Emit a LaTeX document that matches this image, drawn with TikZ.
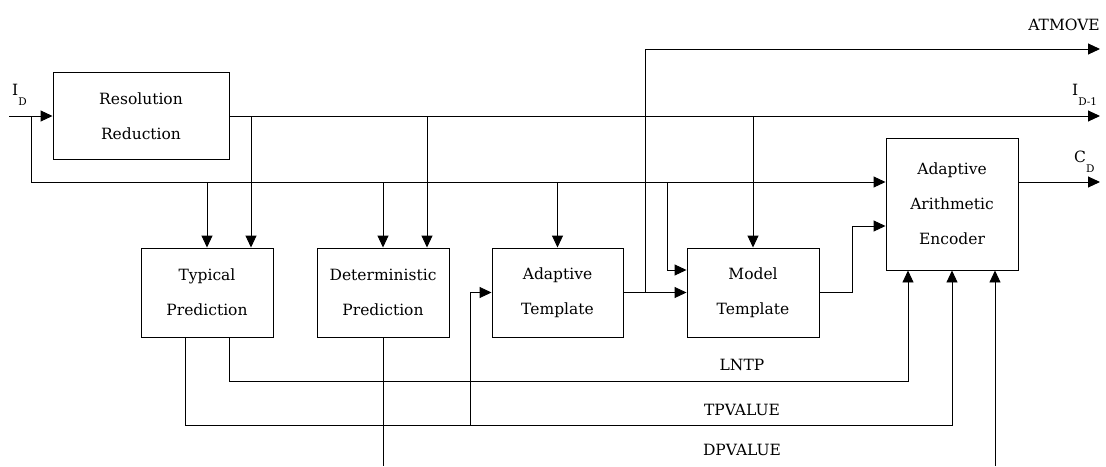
\documentclass[tikz,border=0pt]{standalone}
\usepackage{fontspec}
\setmainfont{DejaVu Serif}
\usetikzlibrary{arrows.meta}
\newcommand{\subD}[1]{\raisebox{-10pt}{\fontsize{10.5}{10.5}\selectfont #1}}
\begin{document}
\begin{tikzpicture}[x=1pt,y=-1pt,
  blk/.style={draw,line width=0.95pt,minimum width=132pt,minimum height=89pt,inner sep=0pt,align=center,font=\fontsize{15.5}{35}\selectfont},
  wire/.style={line width=0.95pt},
  arr/.style={wire,-{Triangle[length=12pt,width=11pt]}},
  lbl/.style={font=\fontsize{15.5}{20}\selectfont,inner sep=0pt}]
\fill[white] (0,0) rectangle (1106,466);
\useasboundingbox (0,0) rectangle (1106,466);

% blocks
\node[blk,minimum width=176pt,minimum height=87pt] (rr) at (141,116) {Resolution\\Reduction};
\node[blk] (tp) at (207,292.5) {Typical\\Prediction};
\node[blk] (dp) at (383,292.5) {Deterministic\\Prediction};
\node[blk,minimum width=131pt] (at) at (557.5,292.5) {Adaptive\\Template};
\node[blk] (mt) at (753,292.5) {Model\\Template};
\node[blk,minimum height=132pt] (ae) at (952,204) {Adaptive\\Arithmetic\\Encoder};

% helper coordinates
\coordinate (in) at (9,116);
\coordinate (j1) at (31,116);
\coordinate (cdl) at (31,182);
\coordinate (out1) at (1100,116);
\coordinate (out2) at (1100,49);
\coordinate (out3) at (1100,182);
\coordinate (m1) at (667,182);
\coordinate (am) at (645,292.5);
\coordinate (yl) at (0,381);
\coordinate (yt) at (0,425);
\coordinate (tj) at (470,425);
\coordinate (dpe) at (383,466);

% input and main lines
\draw[arr] (in) -- (rr.west |- in);
\draw[wire] (j1) -- (cdl);
\draw[arr] (cdl) -- (ae.west |- cdl);
\draw[arr] (rr.east |- j1) -- (out1);

% feeds down
\draw[arr] (tp.north |- cdl) -- (tp.north);
\draw[arr] ([xshift=44pt]tp.north |- j1) -- ([xshift=44pt]tp.north);
\draw[arr] (dp.north |- cdl) -- (dp.north);
\draw[arr] ([xshift=44pt]dp.north |- j1) -- ([xshift=44pt]dp.north);
\draw[arr] (at.north |- cdl) -- (at.north);
\draw[arr] (mt.north |- j1) -- (mt.north);
\draw[arr] (m1) |- ([yshift=22.5pt]mt.west);

% adaptive template outputs
\draw[arr] (at.east) -- (mt.west);
\draw[arr] (am) |- (out2);

% model template to encoder
\draw[arr] (mt.east) -- ++(33,0) |- ([yshift=-22pt]ae.west);
\draw[arr] (ae.east |- cdl) -- (out3);

% typical prediction outputs
\draw[arr] ([xshift=22pt]tp.south) |- ([xshift=-44pt]ae.south |- yl) -- ([xshift=-44pt]ae.south);
\draw[arr] ([xshift=-22pt]tp.south) |- (ae.south |- yt) -- (ae.south);
\draw[arr] (tj) |- (at.west);

% deterministic prediction output
\draw[wire] (dp.south) -- (dpe);
\draw[arr] ([xshift=43pt]ae.south |- dpe) -- ([xshift=43pt]ae.south);

% labels
\node[lbl,anchor=base east] (lat) at (1100,30) {ATMOVE};
\node[lbl,anchor=base west] (lid) at (12,95) {I\subD{D}};
\node[lbl,anchor=base west] (lid1) at (1072,95) {I\subD{D-1}};
\node[lbl,anchor=base west] (lcd) at (1074,162) {C\subD{D}};
\node[lbl] (lln) at (742,365) {LNTP};
\node[lbl] (ltp) at (742,410) {TPVALUE};
\node[lbl] (ldp) at (742,450) {DPVALUE};
\end{tikzpicture}
\end{document}
